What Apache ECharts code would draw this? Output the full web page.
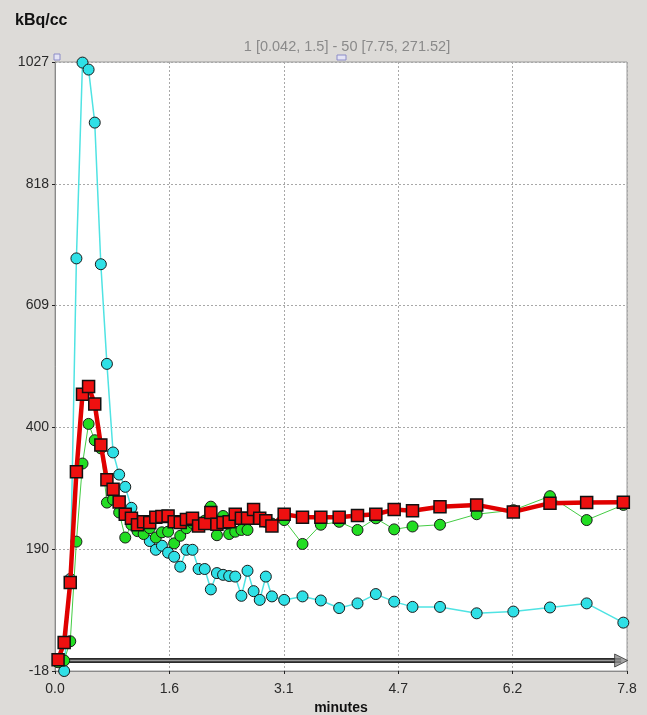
<!DOCTYPE html>
<html>
<head>
<meta charset="utf-8">
<script src="https://cdn.jsdelivr.net/npm/echarts@6/dist/echarts.min.js"></script>
<style>
html,body{margin:0;padding:0;background:#dddbd8;}
#chart{width:647px;height:715px;}
</style>
</head>
<body>
<div id="chart"></div>
<script>
const times = [0.042,0.125,0.208,0.292,0.375,0.458,0.542,0.625,0.708,0.792,0.875,0.958,1.042,1.125,1.208,1.292,1.375,1.458,1.542,1.625,1.708,1.792,1.875,1.958,2.042,2.125,2.208,2.292,2.375,2.458,2.542,2.625,2.708,2.792,2.875,2.958,3.125,3.375,3.625,3.875,4.125,4.375,4.625,4.875,5.25,5.75,6.25,6.75,7.25,7.75];
const redValues = [1.5,31,134,324,457,470,440,370,310,294,272,251,244,233,238,237,246,247,248,238,237,242,244,231,235,254,234,237,238,251,244,244,259,244,240,231,251,246,246,246,249,251,259,257,264,267,255,270,271,271.52];
const greenValues = [-3,0,33,204,338,406,378,364,271,276,254,211,233,222,217,227,211,220,221,201,214,227,236,235,240,264,215,248,217,221,224,224,250,245,238,235,241,200,233,238,224,244,225,230,233,251,258,282,241,267];
const cyanValues = [0,-18,140,690,1026,1014,923,680,509,357,319,298,262,240,220,205,190,197,185,178,161,190,190,157,157,122,150,147,145,144,111,154,119,104,144,110,104,110,103,90,98,114,101,92,92,81,84,91,98,65];
const xTickLabels = ['0.0','1.6','3.1','4.7','6.2','7.8'];
const yTickLabels = ['-18','190','400','609','818','1027'];
const arrowStart = 0.09, arrowEnd = 7.72, arrowLevel = 0;

const pairs = v => times.map((t,i)=>[t, v[i]]);

const chart = echarts.init(document.getElementById('chart'));
chart.setOption({
  backgroundColor: '#dddbd8',
  animation: false,
  title: [
    {text: 'kBq/cc', left: 10, top: 8, textStyle: {fontFamily: 'Liberation Sans', fontSize: 16, fontWeight: 'bold', color: '#111'}},
    {text: '1 [0.042, 1.5] - 50 [7.75, 271.52]', left: 342, top: 34, textAlign: 'center', textStyle: {fontFamily: 'Liberation Sans', fontSize: 14.5, fontWeight: 'normal', color: '#8a8a8a'}}
  ],
  grid: {left: 55, right: 20, top: 62, bottom: 44, show: true, backgroundColor: '#ffffff', borderColor: '#9a9a9a', borderWidth: 1,
    containLabel: false, outerBoundsMode: 'none'},
  xAxis: {
    type: 'value', min: 0, max: 7.8, interval: 1.56,
    name: 'minutes', nameLocation: 'middle', nameGap: 30,
    nameTextStyle: {fontFamily: 'Liberation Sans', fontSize: 14, fontWeight: 'bold', color: '#111'},
    axisLine: {show: true, onZero: false, lineStyle: {color: '#8a8a8a', width: 1}},
    axisTick: {show: true, length: 3, lineStyle: {color: '#222'}},
    axisLabel: {fontFamily: 'Liberation Sans', fontSize: 14, color: '#2a2a2a', margin: 11, showMaxLabel: true, showMinLabel: true,
      formatter: (v, i) => xTickLabels[i] !== undefined ? xTickLabels[i] : v.toFixed(1)},
    splitLine: {show: true, lineStyle: {color: '#a8a8a8', type: [2, 2], width: 1}}
  },
  yAxis: {
    type: 'value', min: -18, max: 1027, interval: 209,
    axisLine: {show: true, onZero: false, lineStyle: {color: '#8a8a8a', width: 1}},
    axisTick: {show: true, length: 3, lineStyle: {color: '#222'}},
    axisLabel: {fontFamily: 'Liberation Sans', fontSize: 14, color: '#2a2a2a', margin: 6, showMaxLabel: true, showMinLabel: true,
      formatter: (v, i) => yTickLabels[i] !== undefined ? yTickLabels[i] : String(Math.round(v))},
    splitLine: {show: true, lineStyle: {color: '#a8a8a8', type: [2, 2], width: 1}}
  },
  graphic: [
    {type: 'rect', shape: {x: 54, y: 54, width: 6, height: 6}, style: {fill: '#e4e4f4', stroke: '#8c8cc8', lineWidth: 1}, z: 100},
    {type: 'rect', shape: {x: 337, y: 55, width: 9, height: 5}, style: {fill: '#e4e4f4', stroke: '#8c8cc8', lineWidth: 1}, z: 100}
  ],
  series: [
    {type: 'line', data: [[arrowStart, arrowLevel],[arrowEnd, arrowLevel]], symbol: 'none', silent: true, z: 1,
      lineStyle: {color: '#2a2a2a', width: 5}},
    {type: 'line', data: [[arrowStart, arrowLevel],[arrowEnd, arrowLevel]], symbol: 'none', silent: true, z: 1,
      lineStyle: {color: '#9a9a9a', width: 1.5}},
    {type: 'scatter', data: [[arrowEnd, arrowLevel]], symbol: 'triangle', symbolSize: [13, 13], symbolRotate: -90, silent: true, z: 1,
      itemStyle: {color: '#8f8f8f', borderColor: '#333', borderWidth: 1}},
    {name: 'cyan', type: 'line', data: pairs(cyanValues), symbol: 'circle', symbolSize: 11, z: 3,
      lineStyle: {color: '#4fe3e3', width: 1.5},
      itemStyle: {color: '#2fe0e6', borderColor: '#1a1a1a', borderWidth: 1}},
    {name: 'green', type: 'line', data: pairs(greenValues), symbol: 'circle', symbolSize: 11, z: 4,
      lineStyle: {color: '#44cc44', width: 1},
      itemStyle: {color: '#22dd22', borderColor: '#1a1a1a', borderWidth: 1}},
    {name: 'red', type: 'line', data: pairs(redValues), symbol: 'rect', symbolSize: 12, z: 5,
      lineStyle: {color: '#e00000', width: 4.5},
      itemStyle: {color: '#ee1010', borderColor: '#111', borderWidth: 1.5}}
  ]
});
</script>
</body>
</html>
